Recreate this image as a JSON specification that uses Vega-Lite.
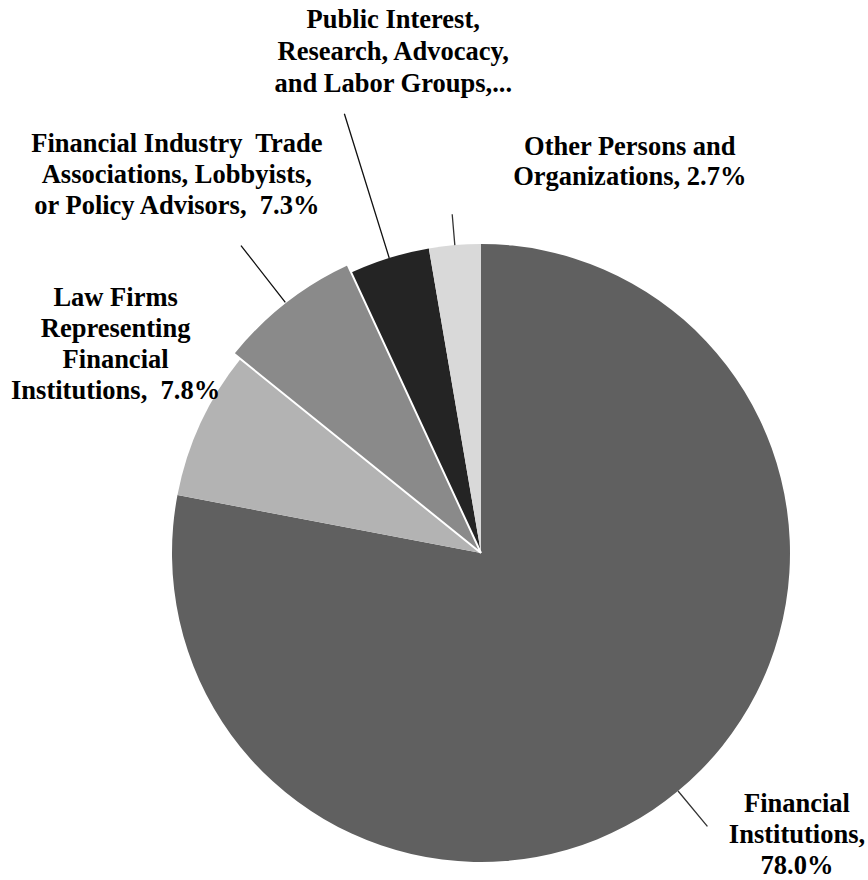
{
  "$schema": "https://vega.github.io/schema/vega-lite/v6.json",
  "width": 774,
  "height": 654,
  "autosize": {"type": "none"},
  "padding": {"left": 94, "top": 226, "right": 0, "bottom": 0},
  "background": "white",
  "config": {"view": {"stroke": null}},
  "data": {
    "values": [
      {"group": "Financial Institutions", "share": 78.0, "label": "Financial\nInstitutions,\n78.0%"},
      {"group": "Law Firms Representing Financial Institutions", "share": 7.8, "label": "Law Firms\nRepresenting\nFinancial\nInstitutions,\u00a0 7.8%"},
      {"group": "Financial Industry Trade Associations, Lobbyists, or Policy Advisors", "share": 7.3, "label": "Financial Industry\u00a0 Trade\nAssociations, Lobbyists,\nor Policy Advisors,\u00a0 7.3%"},
      {"group": "Public Interest, Research, Advocacy, and Labor Groups", "share": 4.2, "label": "Public Interest,\nResearch, Advocacy,\nand Labor Groups,..."},
      {"group": "Other Persons and Organizations", "share": 2.7, "label": "Other Persons and\nOrganizations, 2.7%"}
    ]
  },
  "resolve": {"scale": {"theta": "independent"}},
  "encoding": {
    "theta": {"field": "share", "type": "quantitative", "stack": true, "scale": {"domain": [0, 100]}},
    "order": {"field": "share", "type": "quantitative", "sort": "descending"},
    "detail": {"field": "group", "type": "nominal"}
  },
  "layer": [
    {
      "mark": {"type": "arc", "outerRadius": 309},
      "encoding": {
        "color": {
          "field": "group",
          "type": "nominal",
          "legend": null,
          "scale": {
            "domain": [
              "Financial Institutions",
              "Law Firms Representing Financial Institutions",
              "Financial Industry Trade Associations, Lobbyists, or Policy Advisors",
              "Public Interest, Research, Advocacy, and Labor Groups",
              "Other Persons and Organizations"
            ],
            "range": ["#606060", "#b3b3b3", "#8a8a8a", "#242424", "#d9d9d9"]
          }
        }
      }
    },
    {
      "mark": {"type": "arc", "outerRadius": 318, "fill": "#8a8a8a", "stroke": "white", "strokeWidth": 2},
      "encoding": {
        "opacity": {"condition": {"test": "datum.group === 'Financial Industry Trade Associations, Lobbyists, or Policy Advisors'", "value": 1}, "value": 0}
      }
    },
    {
      "mark": {"type": "arc", "innerRadius": 309, "outerRadius": 355, "padAngle": 3, "fill": "transparent", "stroke": "#333333", "strokeWidth": 1.3},
      "encoding": {
        "theta": {"field": "share", "type": "quantitative", "stack": true, "scale": {"domain": [0, 100], "range": [2.0, 3.154]}},
        "strokeOpacity": {"condition": {"test": "datum.group === 'Financial Institutions'", "value": 1}, "value": 0}
      }
    },
    {
      "mark": {"type": "arc", "innerRadius": 309, "outerRadius": 340, "padAngle": 3, "fill": "transparent", "stroke": "#333333", "strokeWidth": 1.3},
      "encoding": {
        "strokeOpacity": {"condition": {"test": "datum.group === 'Other Persons and Organizations'", "value": 1}, "value": 0}
      }
    },
    {
      "mark": {"type": "arc", "innerRadius": 318, "outerRadius": 390, "padAngle": 3, "fill": "transparent", "stroke": "#111111", "strokeWidth": 1.3},
      "encoding": {
        "strokeOpacity": {"condition": {"test": "datum.group === 'Financial Industry Trade Associations, Lobbyists, or Policy Advisors'", "value": 1}, "value": 0}
      }
    },
    {
      "mark": {"type": "arc", "innerRadius": 309, "outerRadius": 460, "padAngle": 3, "fill": "transparent", "stroke": "#111111", "strokeWidth": 1.3},
      "encoding": {
        "strokeOpacity": {"condition": {"test": "datum.group === 'Public Interest, Research, Advocacy, and Labor Groups'", "value": 1}, "value": 0}
      }
    },
    {
      "mark": {"type": "text", "radius": 309, "dx": 119, "dy": 0, "align": "center", "baseline": "top", "lineBreak": "\n", "lineHeight": 31, "font": "Liberation Serif", "fontWeight": "bold", "fontSize": 26.5, "fill": "#000000"},
      "encoding": {
        "text": {"field": "label"},
        "opacity": {"condition": {"test": "datum.group === 'Financial Institutions'", "value": 1}, "value": 0}
      }
    },
    {
      "mark": {"type": "text", "radius": 309, "dx": -85, "dy": -138, "align": "center", "baseline": "top", "lineBreak": "\n", "lineHeight": 31, "font": "Liberation Serif", "fontWeight": "bold", "fontSize": 26.5, "fill": "#000000"},
      "encoding": {
        "text": {"field": "label"},
        "opacity": {"condition": {"test": "datum.group === 'Law Firms Representing Financial Institutions'", "value": 1}, "value": 0}
      }
    },
    {
      "mark": {"type": "text", "radius": 309, "dx": -114, "dy": -178, "align": "center", "baseline": "top", "lineBreak": "\n", "lineHeight": 31, "font": "Liberation Serif", "fontWeight": "bold", "fontSize": 26.5, "fill": "#000000"},
      "encoding": {
        "text": {"field": "label"},
        "opacity": {"condition": {"test": "datum.group === 'Financial Industry Trade Associations, Lobbyists, or Policy Advisors'", "value": 1}, "value": 0}
      }
    },
    {
      "mark": {"type": "text", "radius": 309, "dx": 4, "dy": -251, "align": "center", "baseline": "top", "lineBreak": "\n", "lineHeight": 32, "font": "Liberation Serif", "fontWeight": "bold", "fontSize": 26.5, "fill": "#000000"},
      "encoding": {
        "text": {"field": "label"},
        "opacity": {"condition": {"test": "datum.group === 'Public Interest, Research, Advocacy, and Labor Groups'", "value": 1}, "value": 0}
      }
    },
    {
      "mark": {"type": "text", "radius": 309, "dx": 175, "dy": -111, "align": "center", "baseline": "top", "lineBreak": "\n", "lineHeight": 30, "font": "Liberation Serif", "fontWeight": "bold", "fontSize": 26.5, "fill": "#000000"},
      "encoding": {
        "text": {"field": "label"},
        "opacity": {"condition": {"test": "datum.group === 'Other Persons and Organizations'", "value": 1}, "value": 0}
      }
    }
  ]
}
